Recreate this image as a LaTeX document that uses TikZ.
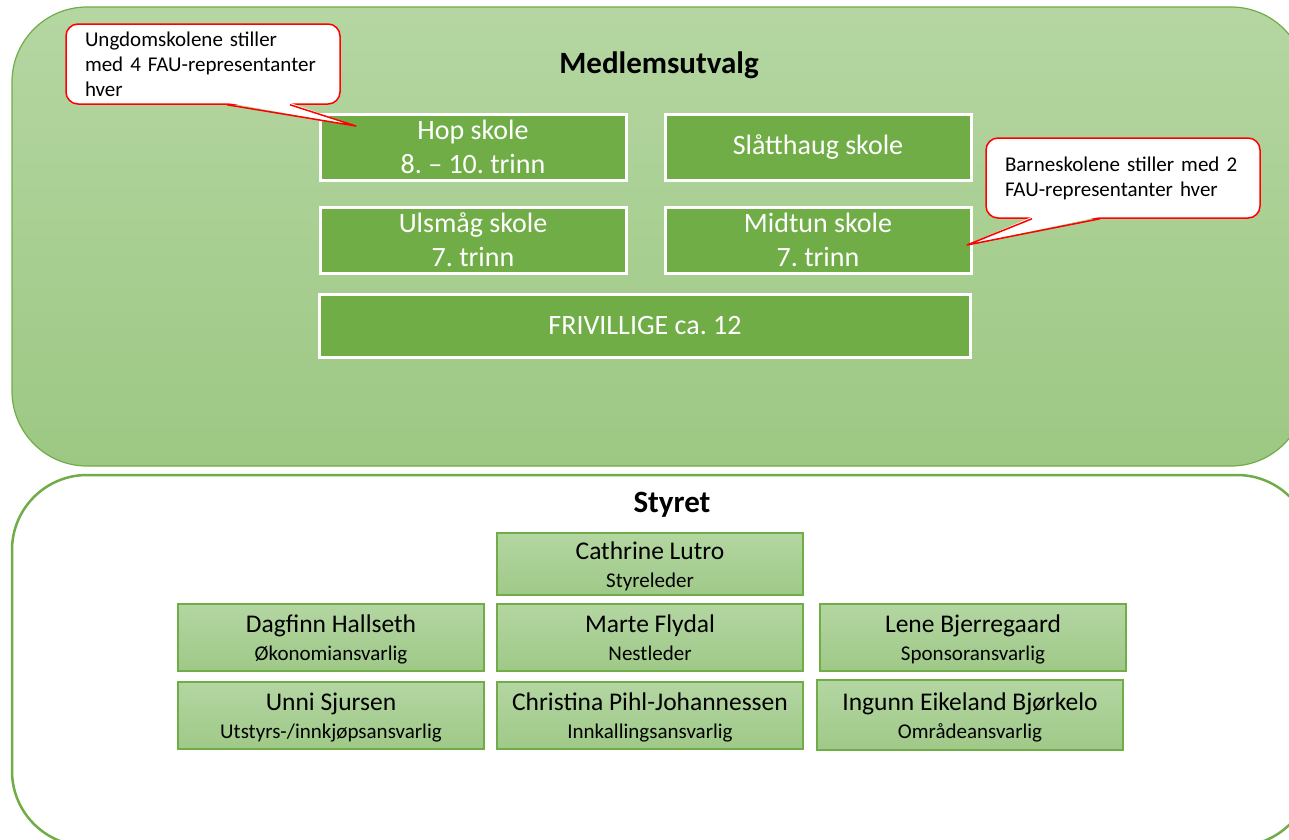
\documentclass[tikz,border=0pt]{standalone}
\usepackage{fontspec}
\setmainfont{Carlito}
\frenchspacing
\definecolor{leaf}{HTML}{70AD47}
\definecolor{paneltop}{RGB}{181,214,162}
\definecolor{panelbot}{RGB}{156,200,131}
\definecolor{membertop}{RGB}{180,214,162}
\definecolor{memberbot}{RGB}{159,201,136}
\newcommand{\person}[2]{\rule{0pt}{25pt}#1\\{\fontsize{21}{28}\selectfont #2\rule[-6pt]{0pt}{6pt}}}
\begin{document}
\begin{tikzpicture}[x=1pt,y=-1pt,
  panel/.style={draw=leaf,rounded corners=75pt},
  heading/.style={font=\fontsize{31}{37}\selectfont\bfseries},
  schoolbox/.style={draw=white,line width=3pt,fill=leaf,text=white,align=center,minimum width=306pt,minimum height=66pt,inner sep=0pt,font=\fontsize{28}{34}\selectfont},
  memberbox/.style={draw=leaf,line width=2pt,top color=membertop,bottom color=memberbot,align=center,minimum width=306pt,minimum height=67pt,inner sep=0pt,font=\fontsize{25.5}{28}\selectfont},
  notebox/.style={draw=red,line width=1.5pt,fill=white,rounded corners=12pt,minimum width=274pt,minimum height=80pt,text width=236pt,align=left,inner sep=0pt,font=\fontsize{21}{25}\selectfont},
  notetip/.style={draw=red,line width=1.5pt,line join=round}]
\useasboundingbox (0,0) rectangle (1289,839);

\draw[panel,line width=1.2pt,top color=paneltop,bottom color=panelbot] (12,7) rectangle (1306,466);
\draw[panel,line width=2.5pt,fill=white] (12,475) rectangle (1312,846);

\node[heading] (medlem) at (659,65) {Medlemsutvalg};
\node[schoolbox] (hop) at (473,147) {Hop skole\\8. – 10. trinn};
\node[schoolbox] (slatt) at (818,147) {Slåtthaug skole};
\node[schoolbox] (ulsmaag) at (473,240) {Ulsmåg skole\\7. trinn};
\node[schoolbox] (midtun) at (818,240) {Midtun skole\\7. trinn};
\node[schoolbox,minimum width=651pt,minimum height=63pt] (frivillige) at (645,326) {FRIVILLIGE ca. 12};

\node[heading] (styret) at (672,505) {Styret};
\node[memberbox,minimum height=62pt] (leder) at (650,564) {\person{Cathrine Lutro}{Styreleder}};
\node[memberbox] (okonomi) at (331,637) {\person{Dagfinn Hallseth}{Økonomiansvarlig}};
\node[memberbox] (nestleder) at (650,637) {\person{Marte Flydal}{Nestleder}};
\node[memberbox] (sponsor) at (973,637) {\person{Lene Bjerregaard}{Sponsoransvarlig}};
\node[memberbox] (utstyr) at (331,715) {\person{Unni Sjursen}{Utstyrs-/innkjøpsansvarlig}};
\node[memberbox] (innkalling) at (650,715) {\person{Christina Pihl-Johannessen}{Innkallingsansvarlig}};
\node[memberbox,minimum height=70pt] (omraade) at (970,715) {\person{Ingunn Eikeland Bjørkelo}{Områdeansvarlig}};

\node[notebox] (hopnote) at (203,64) {Ungdomskolene stiller\\med 4 FAU-representanter\\hver};
\coordinate (hoptip) at (356,126);
\fill[white] ([xshift=24pt,yshift=2pt]hopnote.south) -- (hoptip) -- ([xshift=87pt,yshift=2pt]hopnote.south) -- cycle;
\draw[notetip] ([xshift=24pt]hopnote.south) -- (hoptip) -- ([xshift=87pt]hopnote.south);

\node[notebox] (barnenote) at (1123,178) {Barneskolene stiller med 2\\FAU-representanter hver};
\coordinate (midtuntip) at (967,245);
\fill[white] ([xshift=-91pt,yshift=2pt]barnenote.south) -- (midtuntip) -- ([xshift=-23pt,yshift=2pt]barnenote.south) -- cycle;
\draw[notetip] ([xshift=-91pt]barnenote.south) -- (midtuntip) -- ([xshift=-23pt]barnenote.south);
\end{tikzpicture}
\end{document}
